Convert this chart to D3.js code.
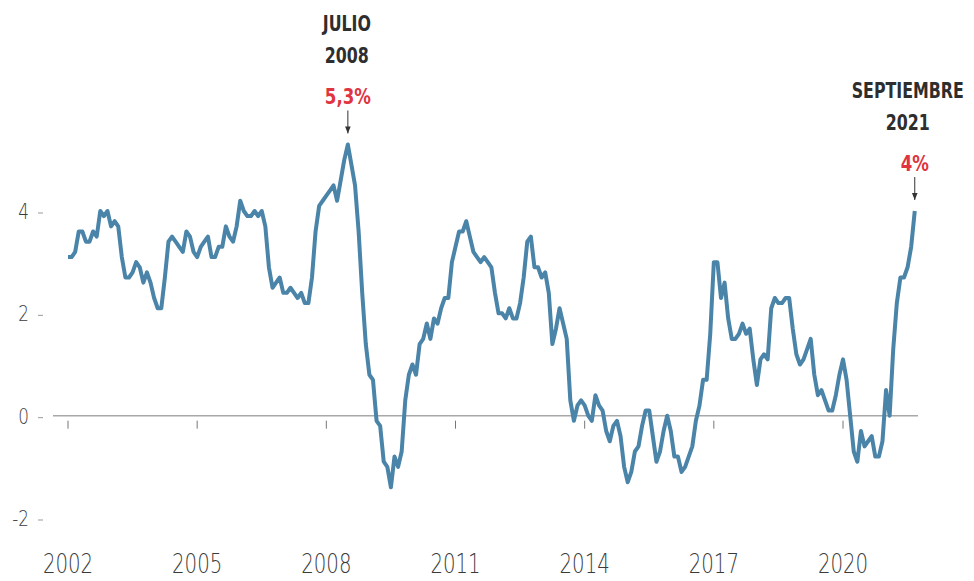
<!DOCTYPE html>
<html>
<head>
  <meta charset="utf-8">
  <script src="https://cdn.jsdelivr.net/npm/d3@7/dist/d3.min.js"></script>
  <style>
    body { margin: 0; background: #fff; }
    svg text { font-family: "DejaVu Sans", sans-serif; font-stretch: condensed; }
  </style>
</head>
<body>
  <svg id="chart" width="974" height="581"></svg>
  <script>
    // IPC interanual, mensual, desde enero 2002 hasta septiembre 2021
    var startYear = 2002;
    var ipc = [
      3.1, 3.1, 3.2, 3.6, 3.6, 3.4, 3.4, 3.6, 3.5, 4.0, 3.9, 4.0,   // 2002
      3.7, 3.8, 3.7, 3.1, 2.7, 2.7, 2.8, 3.0, 2.9, 2.6, 2.8, 2.6,   // 2003
      2.3, 2.1, 2.1, 2.7, 3.4, 3.5, 3.4, 3.3, 3.2, 3.6, 3.5, 3.2,   // 2004
      3.1, 3.3, 3.4, 3.5, 3.1, 3.1, 3.3, 3.3, 3.7, 3.5, 3.4, 3.7,   // 2005
      4.2, 4.0, 3.9, 3.9, 4.0, 3.9, 4.0, 3.7, 2.9, 2.5, 2.6, 2.7,   // 2006
      2.4, 2.4, 2.5, 2.4, 2.3, 2.4, 2.2, 2.2, 2.7, 3.6, 4.1, 4.2,   // 2007
      4.3, 4.4, 4.5, 4.2, 4.6, 5.0, 5.3, 4.9, 4.5, 3.6, 2.4, 1.4,   // 2008
      0.8, 0.7, -0.1, -0.2, -0.9, -1.0, -1.4, -0.8, -1.0, -0.7, 0.3, 0.8, // 2009
      1.0, 0.8, 1.4, 1.5, 1.8, 1.5, 1.9, 1.8, 2.1, 2.3, 2.3, 3.0,   // 2010
      3.3, 3.6, 3.6, 3.8, 3.5, 3.2, 3.1, 3.0, 3.1, 3.0, 2.9, 2.4,   // 2011
      2.0, 2.0, 1.9, 2.1, 1.9, 1.9, 2.2, 2.7, 3.4, 3.5, 2.9, 2.9,   // 2012
      2.7, 2.8, 2.4, 1.4, 1.7, 2.1, 1.8, 1.5, 0.3, -0.1, 0.2, 0.3,  // 2013
      0.2, 0.0, -0.1, 0.4, 0.2, 0.1, -0.3, -0.5, -0.2, -0.1, -0.4, -1.0, // 2014
      -1.3, -1.1, -0.7, -0.6, -0.2, 0.1, 0.1, -0.4, -0.9, -0.7, -0.3, 0.0, // 2015
      -0.3, -0.8, -0.8, -1.1, -1.0, -0.8, -0.6, -0.1, 0.2, 0.7, 0.7, 1.6, // 2016
      3.0, 3.0, 2.3, 2.6, 1.9, 1.5, 1.5, 1.6, 1.8, 1.6, 1.7, 1.1,   // 2017
      0.6, 1.1, 1.2, 1.1, 2.1, 2.3, 2.2, 2.2, 2.3, 2.3, 1.7, 1.2,   // 2018
      1.0, 1.1, 1.3, 1.5, 0.8, 0.4, 0.5, 0.3, 0.1, 0.1, 0.4, 0.8,   // 2019
      1.1, 0.7, 0.0, -0.7, -0.9, -0.3, -0.6, -0.5, -0.4, -0.8, -0.8, -0.5, // 2020
      0.5, 0.0, 1.3, 2.2, 2.7, 2.7, 2.9, 3.3, 4.0                    // 2021
    ];
    var yearTicks = [2002, 2005, 2008, 2011, 2014, 2017, 2020];
    var valueTicks = [-2, 0, 2, 4];

    // month = indice en ipc; shift = desplazamiento del titulo
    var notes = [
      { month: 78,  lines: ["JULIO", "2008"],      label: "5,3%", shift: -1 },
      { month: 236, lines: ["SEPTIEMBRE", "2021"], label: "4%",   shift: -7 }
    ];

    var svg = d3.select("#chart");

    var x = d3.scaleLinear().domain([2002, 2020]).range([68, 843]);
    var y = d3.scaleLinear().domain([-2, 4]).range([518, 211]);

    var data = ipc.map(function (v, i) {
      return { t: startYear + i / 12, v: v };
    });

    // texto estrecho: la fuente del original es mas condensada
    function addText ( px, py, str, size, sx, anchor, weight, color ) {
      var g = svg.append("g")
        .attr("transform", "translate(" + px + "," + py + ") scale(" + sx + ",1)");
      g.append("text")
        .attr("text-anchor", anchor)
        .attr("font-size", size)
        .attr("font-weight", weight)
        .attr("fill", color)
        .text(str);
      return g;
    }

    // linea de cero
    svg.append("line")
      .attr("x1", 53).attr("x2", 918)
      .attr("y1", y(0)).attr("y2", y(0))
      .attr("stroke", "#a8a8a8")
      .attr("stroke-width", 1.5);

    // eje x
    svg.append("g").selectAll("line").data(yearTicks).enter().append("line")
      .attr("x1", function (d) { return x(d); })
      .attr("x2", function (d) { return x(d); })
      .attr("y1", y(0) + 5).attr("y2", y(0) + 13)
      .attr("stroke", "#777").attr("stroke-width", 1);
    yearTicks.forEach(function (d) {
      addText(x(d), 573, d, 26, 0.76, "middle", 300, "#3a3a3a");
    });

    // eje y
    svg.append("g").selectAll("line").data(valueTicks).enter().append("line")
      .attr("x1", 38).attr("x2", 43)
      .attr("y1", function (d) { return y(d) + 2; })
      .attr("y2", function (d) { return y(d) + 2; })
      .attr("stroke", "#999").attr("stroke-width", 1);
    valueTicks.forEach(function (d) {
      addText(29, y(d) + 8, d, 21, 0.8, "end", 300, "#3a3a3a");
    });

    // serie
    var line = d3.line()
      .x(function (d) { return x(d.t); })
      .y(function (d) { return y(d.v); });

    svg.append("path")
      .datum(data)
      .attr("d", line)
      .attr("fill", "none")
      .attr("stroke", "#4a84a8")
      .attr("stroke-width", 4)
      .attr("stroke-linejoin", "round");

    // anotaciones
    var defs = svg.append("defs");
    defs.append("marker")
      .attr("id", "arrow")
      .attr("viewBox", "0 0 10 10")
      .attr("refX", 10).attr("refY", 5)
      .attr("markerWidth", 7).attr("markerHeight", 7)
      .attr("markerUnits", "userSpaceOnUse")
      .attr("orient", "auto")
      .append("path")
      .attr("d", "M0,1L10,5L0,9Z")
      .attr("fill", "#333");

    notes.forEach(function (n) {
      var d = data[n.month];
      var px = x(d.t);
      var py = y(d.v);
      var cx = px + n.shift;

      n.lines.forEach(function (s, i) {
        addText(cx, py - 113 + i * 32, s, 22, 0.8, "middle", "bold", "#2e2e2e");
      });

      addText(px, py - 40, n.label, 22, 0.84, "middle", "bold", "#e03440");

      svg.append("line")
        .attr("x1", px).attr("x2", px)
        .attr("y1", py - 34).attr("y2", py - 11)
        .attr("stroke", "#333").attr("stroke-width", 1)
        .attr("marker-end", "url(#arrow)");
    });
  </script>
</body>
</html>
